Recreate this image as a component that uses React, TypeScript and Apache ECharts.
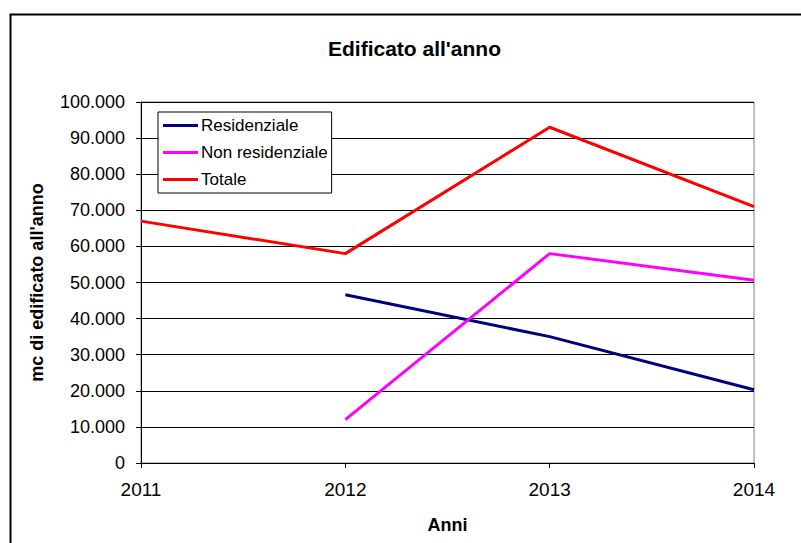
import React, { useEffect, useRef } from "react";
import * as echarts from "echarts";

const years = ["2011", "2012", "2013", "2014"];
const residenziale = [null, 46600, 35000, 20300];
const nonResidenziale = [null, 12000, 58000, 50600];
const totale = [67000, 58000, 93000, 71000];
const seriesNames = ["Residenziale", "Non residenziale", "Totale"];

const FONT = "Liberation Sans, Arial, sans-serif";

function fmt(v: number): string {
  return String(v).replace(/\B(?=(\d{3})+(?!\d))/g, ".");
}

export default function App() {
  const ref = useRef<HTMLDivElement>(null);
  useEffect(() => {
    if (!ref.current) return;
    const chart = echarts.init(ref.current, undefined, { renderer: "svg" });
    const lineSeries = (name: string, data: (number | null)[], color: string) => ({
      name,
      type: "line",
      data: data.map((v) => (v === null ? "-" : v)),
      showSymbol: false,
      symbol: "none",
      lineStyle: { color, width: 3 },
      itemStyle: { color },
      connectNulls: false,
    });
    chart.setOption({
      animation: false,
      backgroundColor: "#ffffff",
      title: {
        text: "Edificato all'anno",
        left: 323,
        top: 33,
        textStyle: { fontFamily: FONT, fontSize: 21, fontWeight: "bold", color: "#000" },
      },
      legend: {
        orient: "vertical",
        left: 158,
        top: 112,
        data: seriesNames,
        backgroundColor: "#fff",
        borderColor: "#000",
        borderWidth: 1,
        padding: [5, 4, 5, 5],
        itemGap: 10,
        itemWidth: 35,
        itemHeight: 3,
        icon: "rect",
        textStyle: { fontFamily: FONT, fontSize: 17, color: "#000", padding: [0, 0, 0, -2] },
      },
      grid: {
        left: 141,
        top: 102,
        right: 47,
        bottom: 80,
        show: true,
        borderColor: "#808080",
        borderWidth: 1,
      },
      xAxis: {
        type: "category",
        data: years,
        boundaryGap: false,
        name: "Anni",
        nameLocation: "middle",
        nameGap: 53,
        nameTextStyle: { fontFamily: FONT, fontSize: 18, fontWeight: "bold", color: "#000" },
        axisLine: { lineStyle: { color: "#000", width: 1 } },
        axisTick: { show: true, length: 5, lineStyle: { color: "#000" } },
        axisLabel: { fontFamily: FONT, fontSize: 19, color: "#000", margin: 17 },
        splitLine: { show: false },
      },
      yAxis: {
        type: "value",
        min: 0,
        max: 100000,
        interval: 10000,
        name: "mc di edificato all'anno",
        nameLocation: "middle",
        nameRotate: 90,
        nameGap: 95,
        nameTextStyle: { fontFamily: FONT, fontSize: 18, fontWeight: "bold", color: "#000" },
        axisLine: { show: true, lineStyle: { color: "#000", width: 1 } },
        axisTick: { show: true, length: 5, lineStyle: { color: "#000" } },
        axisLabel: {
          fontFamily: FONT,
          fontSize: 18,
          color: "#000",
          margin: 16,
          formatter: (v: number) => fmt(v),
        },
        splitLine: { show: true, lineStyle: { color: "#000", width: 1 } },
      },
      graphic: [
        {
          type: "rect",
          left: 8,
          top: 12,
          shape: { x: 0, y: 0, width: 900, height: 700 },
          style: { fill: "none", stroke: "#000", lineWidth: 2 },
          silent: true,
          z: 100,
        },
      ],
      series: [
        lineSeries(seriesNames[0], residenziale, "#000080"),
        lineSeries(seriesNames[1], nonResidenziale, "#ff00ff"),
        lineSeries(seriesNames[2], totale, "#ff0000"),
      ],
    });
    return () => chart.dispose();
  }, []);
  return (
    <div
      ref={ref}
      style={{ position: "fixed", left: 0, top: 0, width: 801, height: 543, background: "#fff" }}
    />
  );
}
